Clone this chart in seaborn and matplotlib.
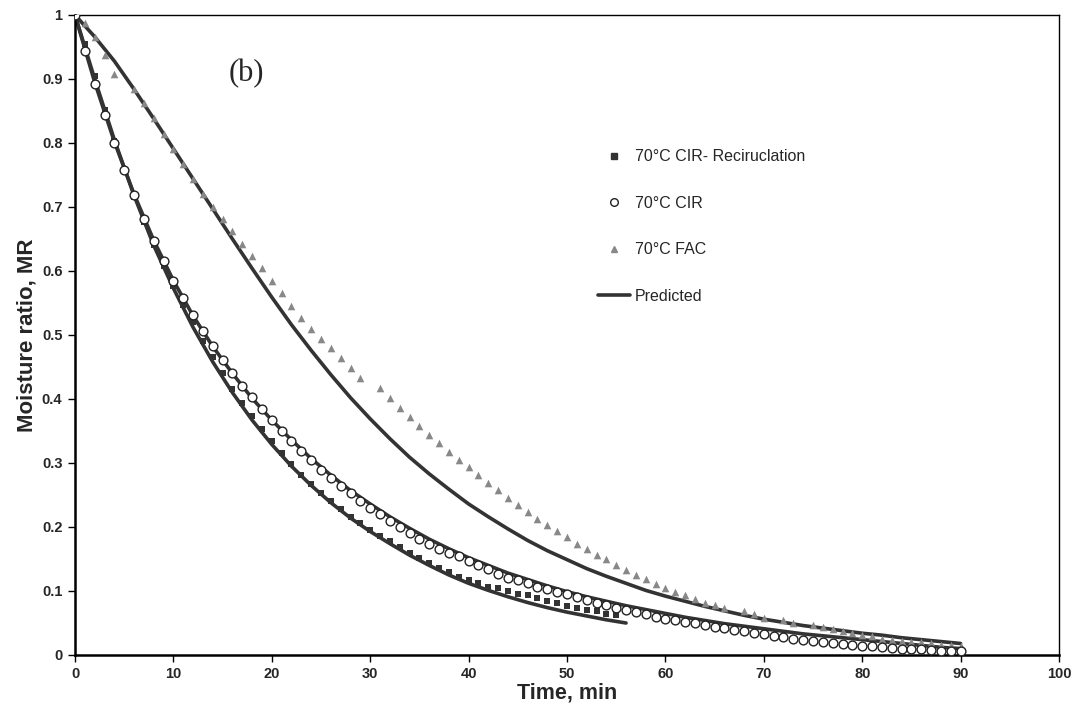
import matplotlib
matplotlib.use("Agg")
import matplotlib.pyplot as plt
import seaborn as sns
import pandas as pd
from matplotlib.lines import Line2D

# ---------------- data ----------------
t_recirc = list(range(0, 56))
mr_recirc = [1.0, 0.955, 0.905, 0.852, 0.803, 0.757, 0.715, 0.676, 0.641, 0.608,
             0.577, 0.547, 0.520, 0.491, 0.465, 0.440, 0.416, 0.394, 0.373, 0.353,
             0.334, 0.316, 0.298, 0.282, 0.267, 0.253, 0.241, 0.228, 0.216, 0.206,
             0.195, 0.186, 0.178, 0.169, 0.160, 0.152, 0.144, 0.136, 0.130, 0.122,
             0.117, 0.112, 0.107, 0.104, 0.100, 0.096, 0.093, 0.089, 0.085, 0.081,
             0.077, 0.073, 0.071, 0.068, 0.064, 0.062]

t_cir = list(range(0, 91))
mr_cir = [1.0, 0.944, 0.892, 0.843, 0.800, 0.758, 0.719, 0.681, 0.647, 0.616,
          0.585, 0.558, 0.531, 0.506, 0.483, 0.461, 0.440, 0.420, 0.403, 0.384,
          0.367, 0.350, 0.334, 0.319, 0.304, 0.289, 0.276, 0.264, 0.253, 0.241,
          0.230, 0.220, 0.210, 0.200, 0.190, 0.181, 0.173, 0.166, 0.160, 0.154,
          0.147, 0.141, 0.134, 0.127, 0.121, 0.117, 0.112, 0.107, 0.103, 0.099,
          0.095, 0.090, 0.086, 0.082, 0.078, 0.074, 0.070, 0.067, 0.064, 0.060,
          0.057, 0.0545, 0.052, 0.0495, 0.047, 0.044, 0.042, 0.039, 0.0375, 0.035,
          0.033, 0.030, 0.028, 0.025, 0.023, 0.022, 0.021, 0.018, 0.017, 0.016,
          0.0145, 0.0135, 0.012, 0.011, 0.010, 0.009, 0.009, 0.008, 0.007, 0.007,
          0.006]

t_fac = [0, 1, 2, 3, 4, 6, 7, 8, 9, 10, 11, 12, 13, 14, 15, 16, 17, 18, 19, 20,
         21, 22, 23, 24, 25, 26, 27, 28, 29, 31, 32, 33, 34, 35, 36, 37, 38, 39,
         40, 41, 42, 43, 44, 45, 46, 47, 48, 49, 50, 51, 52, 53, 54, 55, 56, 57,
         58, 59, 60, 61, 62, 63, 64, 65, 66, 68, 69, 70, 72, 73, 75, 76, 77, 78,
         79, 80, 81, 82, 83, 84, 85, 86, 87, 88, 89, 90]
mr_fac = [1.0, 0.987, 0.965, 0.938, 0.908, 0.885, 0.862, 0.839, 0.814, 0.790,
          0.767, 0.743, 0.721, 0.700, 0.681, 0.662, 0.642, 0.623, 0.604, 0.585,
          0.565, 0.545, 0.527, 0.510, 0.494, 0.479, 0.464, 0.449, 0.433, 0.417,
          0.401, 0.386, 0.372, 0.358, 0.344, 0.331, 0.317, 0.305, 0.293, 0.281,
          0.269, 0.258, 0.246, 0.235, 0.224, 0.2125, 0.203, 0.194, 0.184, 0.174,
          0.166, 0.157, 0.1495, 0.141, 0.133, 0.1255, 0.118, 0.111, 0.105, 0.099,
          0.093, 0.0875, 0.082, 0.078, 0.073, 0.068, 0.064, 0.058, 0.054, 0.050,
          0.047, 0.043, 0.041, 0.0375, 0.035, 0.031, 0.029, 0.0255, 0.023, 0.022,
          0.0205, 0.020, 0.018, 0.016, 0.015, 0.014]

# predicted curves
tp_recirc = [0, 2, 4, 6, 8, 10, 12, 14, 16, 18, 20, 22, 24, 26, 28, 30, 32, 34,
             36, 38, 40, 42, 44, 46, 48, 50, 52, 54, 56]
mp_recirc = [1.0, 0.900, 0.805, 0.718, 0.640, 0.573, 0.512, 0.458, 0.410, 0.367,
             0.329, 0.295, 0.265, 0.238, 0.214, 0.193, 0.174, 0.156, 0.140, 0.125,
             0.112, 0.101, 0.091, 0.082, 0.074, 0.067, 0.061, 0.055, 0.050]

tp_cir = [0, 2, 4, 6, 8, 10, 12, 14, 16, 18, 20, 22, 24, 26, 28, 30, 32, 34, 36,
          38, 40, 42, 44, 46, 48, 50, 52, 54, 56, 58, 60, 62, 64, 66, 68, 70, 72,
          74, 76, 78, 80, 82, 84, 86, 88, 90]
mp_cir = [1.0, 0.895, 0.802, 0.720, 0.648, 0.585, 0.530, 0.482, 0.440, 0.401,
          0.367, 0.336, 0.307, 0.281, 0.257, 0.236, 0.216, 0.198, 0.181, 0.166,
          0.152, 0.140, 0.128, 0.118, 0.108, 0.099, 0.091, 0.084, 0.077, 0.071,
          0.065, 0.059, 0.054, 0.049, 0.045, 0.041, 0.037, 0.033, 0.030, 0.027,
          0.024, 0.021, 0.018, 0.015, 0.012, 0.010]

tp_fac = [0, 2, 4, 6, 8, 10, 12, 14, 16, 18, 20, 22, 24, 26, 28, 30, 32, 34, 36,
          38, 40, 42, 44, 46, 48, 50, 52, 54, 56, 58, 60, 62, 64, 66, 68, 70, 72,
          74, 76, 78, 80, 82, 84, 86, 88, 90]
mp_fac = [1.0, 0.966, 0.928, 0.884, 0.838, 0.791, 0.744, 0.697, 0.650, 0.604,
          0.559, 0.516, 0.476, 0.438, 0.402, 0.369, 0.338, 0.309, 0.283, 0.259,
          0.236, 0.216, 0.197, 0.179, 0.163, 0.149, 0.135, 0.123, 0.112, 0.101,
          0.092, 0.084, 0.076, 0.069, 0.062, 0.056, 0.051, 0.046, 0.042, 0.038,
          0.034, 0.031, 0.027, 0.024, 0.021, 0.018]

labels = ["70\u00b0C CIR- Reciruclation", "70\u00b0C CIR", "70\u00b0C FAC", "Predicted"]
x_ticks = [0, 10, 20, 30, 40, 50, 60, 70, 80, 90, 100]
y_ticks = [0, 0.1, 0.2, 0.3, 0.4, 0.5, 0.6, 0.7, 0.8, 0.9, 1]
y_tick_labels = ["0", "0.1", "0.2", "0.3", "0.4", "0.5", "0.6", "0.7", "0.8", "0.9", "1"]

# ---------------- plotting ----------------
sns.set_theme(style="white")
plt.rcParams["font.family"] = ["Liberation Sans", "DejaVu Sans"]

fig = plt.figure(figsize=(10.78, 7.19), dpi=100)
ax = fig.add_axes([75 / 1078, 1 - 655 / 719, (1059 - 75) / 1078, (655 - 15) / 719])

line_col = "#333333"
df_pr = pd.DataFrame({"t": tp_recirc, "mr": mp_recirc})
df_pc = pd.DataFrame({"t": tp_cir, "mr": mp_cir})
df_pf = pd.DataFrame({"t": tp_fac, "mr": mp_fac})
for d in (df_pr, df_pc, df_pf):
    sns.lineplot(data=d, x="t", y="mr", ax=ax, color=line_col, linewidth=2.6,
                 zorder=2, legend=False)

df_r = pd.DataFrame({"t": t_recirc, "mr": mr_recirc})
df_c = pd.DataFrame({"t": t_cir, "mr": mr_cir})
df_f = pd.DataFrame({"t": t_fac, "mr": mr_fac})
sns.scatterplot(data=df_r, x="t", y="mr", ax=ax, marker="s", s=24,
                color="#333333", edgecolor="#333333", linewidth=0, zorder=3, legend=False)
sns.scatterplot(data=df_c, x="t", y="mr", ax=ax, marker="o", s=40,
                color="white", edgecolor="#222222", linewidth=1.0, zorder=4, legend=False)
sns.scatterplot(data=df_f, x="t", y="mr", ax=ax, marker="^", s=30,
                color="#888888", edgecolor="#888888", linewidth=0, zorder=3, legend=False)

ax.set_xlim(0, 100)
ax.set_ylim(0, 1)
ax.set_xticks(x_ticks)
ax.set_yticks(y_ticks)
ax.set_yticklabels(y_tick_labels)
ax.tick_params(axis="both", which="major", direction="out", length=5, width=1,
               color="black", labelsize=10.5, pad=4, left=True, bottom=True)
for lab in ax.get_xticklabels() + ax.get_yticklabels():
    lab.set_fontweight("bold")

for side in ("left", "bottom"):
    ax.spines[side].set_color("black")
    ax.spines[side].set_linewidth(1.8)
for side in ("top", "right"):
    ax.spines[side].set_color("black")
    ax.spines[side].set_linewidth(1.0)

ax.set_xlabel("Time, min", fontsize=15.5, fontweight="bold", labelpad=1)
ax.set_ylabel("Moisture ratio, MR", fontsize=16, fontweight="bold", labelpad=3)

fig.text(229 / 1078, 1 - 74 / 719, "(b)", fontsize=22,
         family=["Liberation Serif", "DejaVu Serif"], va="center", ha="left")

handles = [
    Line2D([], [], linestyle="none", marker="s", markersize=4.5,
           markerfacecolor="#333333", markeredgecolor="#333333"),
    Line2D([], [], linestyle="none", marker="o", markersize=5.5,
           markerfacecolor="white", markeredgecolor="#222222", markeredgewidth=1.0),
    Line2D([], [], linestyle="none", marker="^", markersize=5,
           markerfacecolor="#888888", markeredgecolor="#888888"),
    Line2D([], [], color=line_col, linewidth=2.6),
]
leg = ax.legend(handles, labels, loc="upper left",
                bbox_to_anchor=(592 / 1078, 1 - 143 / 719),
                bbox_transform=fig.transFigure, frameon=False, fontsize=11.5,
                labelspacing=1.97, handlelength=2.0, handletextpad=0.3,
                borderaxespad=0)

fig.savefig("out.png", dpi=100)
